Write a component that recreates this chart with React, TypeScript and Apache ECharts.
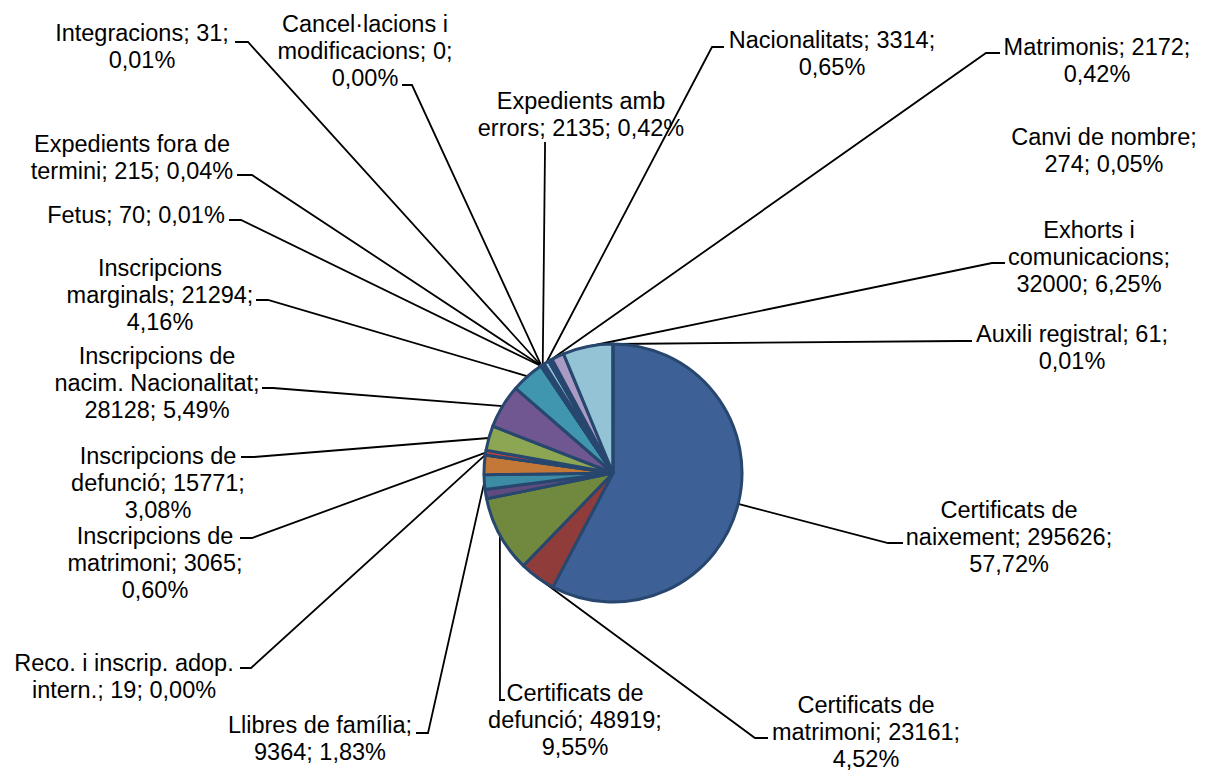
import React, { useEffect, useRef } from 'react';
import * as echarts from 'echarts';

// ---- data (unlabeled slices estimated from their angles) ----
const categories: string[] = [
  'Certificats de naixement',
  'Certificats de matrimoni',
  'Certificats de defunció',
  '(sense etiqueta 1)',
  'Llibres de família',
  '(sense etiqueta 2)',
  'Reco. i inscrip. adop. intern.',
  'Inscripcions de matrimoni',
  'Inscripcions de defunció',
  'Inscripcions de nacim. Nacionalitat',
  'Inscripcions marginals',
  'Fetus',
  'Expedients fora de termini',
  'Integracions',
  'Cancel·lacions i modificacions',
  'Expedients amb errors',
  'Nacionalitats',
  'Matrimonis',
  'Canvi de nombre',
  '(sense etiqueta 3)',
  'Exhorts i comunicacions',
  'Auxili registral',
];

const values: number[] = [
  295626, 23161, 48919, 5980, 9364, 12520, 19, 3065, 15771, 28128, 21294,
  70, 215, 31, 0, 2135, 3314, 2172, 274, 8060, 32000, 61,
];

// label text with the line breaks of the original ({v} = value, {p} = percent)
const labelTemplates: (string | null)[] = [
  'Certificats de\nnaixement; {v};\n{p}',
  'Certificats de\nmatrimoni; {v};\n{p}',
  'Certificats de\ndefunció; {v};\n{p}',
  null,
  'Llibres de família;\n{v}; {p}',
  null,
  'Reco. i inscrip. adop.\nintern.; {v}; {p}',
  'Inscripcions de\nmatrimoni; {v};\n{p}',
  'Inscripcions de\ndefunció; {v};\n{p}',
  'Inscripcions de\nnacim. Nacionalitat;\n{v}; {p}',
  'Inscripcions\nmarginals; {v};\n{p}',
  'Fetus; {v}; {p}',
  'Expedients fora de\ntermini; {v}; {p}',
  'Integracions; {v};\n{p}',
  'Cancel·lacions i\nmodificacions; {v};\n{p}',
  'Expedients amb\nerrors; {v}; {p}',
  'Nacionalitats; {v};\n{p}',
  'Matrimonis; {v};\n{p}',
  'Canvi de nombre;\n{v}; {p}',
  null,
  'Exhorts i\ncomunicacions;\n{v}; {p}',
  'Auxili registral; {v};\n{p}',
];

// ---- styles / layout ----
const colors: string[] = [
  '#3D6196', '#8F3C3A', '#71893F', '#5F4B7E', '#3B8CA4', '#C47837',
  '#2C4D75', '#B8433F', '#8CA653', '#715792', '#3F96AE', '#E08A3C',
  '#2C4D75', '#7F3330', '#5F7534', '#4F3E68', '#8FC4D6', '#2C4D75',
  '#3D6196', '#A99BC3', '#93C3D5', '#F2B27C',
];

// label centre [x, y], leader bend point, stub end next to the text
type LP = { c: [number, number]; s1?: [number, number]; s2?: [number, number] } | null;
const labelPos: LP[] = [
  { c: [1009, 537], s1: [888, 543], s2: [903, 543] },
  { c: [866, 732], s1: [755, 738], s2: [768, 738] },
  { c: [575, 720], s1: [500, 700], s2: [505, 700] },
  null,
  { c: [320, 738], s1: [428, 733], s2: [416, 733] },
  null,
  { c: [124, 676], s1: [251, 668], s2: [240, 668] },
  { c: [155, 563], s1: [252, 538], s2: [240, 538] },
  { c: [158, 483], s1: [254, 457], s2: [241, 457] },
  { c: [157, 383], s1: [273, 388], s2: [262, 388] },
  { c: [160, 295], s1: [268, 300], s2: [256, 300] },
  { c: [136, 215], s1: [241, 220], s2: [229, 220] },
  { c: [132, 157], s1: [252, 175], s2: [237, 175] },
  { c: [142, 46], s1: [248, 42], s2: [235, 42] },
  { c: [365, 51], s1: [412, 85], s2: [402, 85] },
  { c: [581, 114], s1: [545, 150], s2: [545, 142] },
  { c: [832, 53], s1: [712, 47], s2: [724, 47] },
  { c: [1097, 60], s1: [986, 53], s2: [1000, 53] },
  { c: [1104, 150] },
  null,
  { c: [1089, 257], s1: [992, 263], s2: [1005, 263] },
  { c: [1072, 347], s1: [960, 341], s2: [972, 341] },
];

export default function App() {
  const ref = useRef<HTMLDivElement>(null);

  useEffect(() => {
    if (!ref.current) return;
    const chart = echarts.init(ref.current, undefined, { renderer: 'svg' });

    const data = categories.map((name, i) => {
      const t = labelTemplates[i];
      const lp = labelPos[i];
      return {
        name,
        value: values[i],
        itemStyle: { color: colors[i] },
        label: { show: t !== null },
        labelLine: { show: t !== null && !!(lp && lp.s1) },
      };
    });

    chart.setOption({
      animation: false,
      backgroundColor: '#ffffff',
      series: [
        {
          type: 'pie',
          center: [613, 473],
          radius: 129,
          startAngle: 90,
          clockwise: true,
          avoidLabelOverlap: false,
          minAngle: 0,
          data,
          itemStyle: { borderColor: '#28476F', borderWidth: 3 },
          emphasis: { disabled: true },
          label: {
            show: true,
            position: 'outside',
            color: '#000000',
            fontFamily: '"Liberation Sans", Arial, sans-serif',
            fontSize: 23.5,
            lineHeight: 27,
            align: 'center',
            formatter: (p: any) => {
              const t = labelTemplates[p.dataIndex] || '';
              const pct = (p.percent as number).toFixed(2).replace('.', ',');
              return t.replace('{v}', String(p.value)).replace('{p}', pct + '%');
            },
          },
          labelLine: {
            show: true,
            length: 10,
            length2: 10,
            smooth: false,
            lineStyle: { color: '#000000', width: 1.8 },
          },
          labelLayout: (params: any) => {
            const lp = labelPos[params.dataIndex];
            if (!lp) return {};
            const res: any = {
              x: lp.c[0],
              y: lp.c[1],
              align: 'center',
              verticalAlign: 'middle',
            };
            const pts = params.labelLinePoints;
            if (lp.s1 && lp.s2 && pts && pts[0]) {
              res.labelLinePoints = [[pts[0][0], pts[0][1]], lp.s1, lp.s2];
            }
            return res;
          },
        },
      ],
    });

    return () => chart.dispose();
  }, []);

  return (
    <div
      ref={ref}
      style={{ position: 'absolute', left: 0, top: 0, width: 1208, height: 771 }}
    />
  );
}
